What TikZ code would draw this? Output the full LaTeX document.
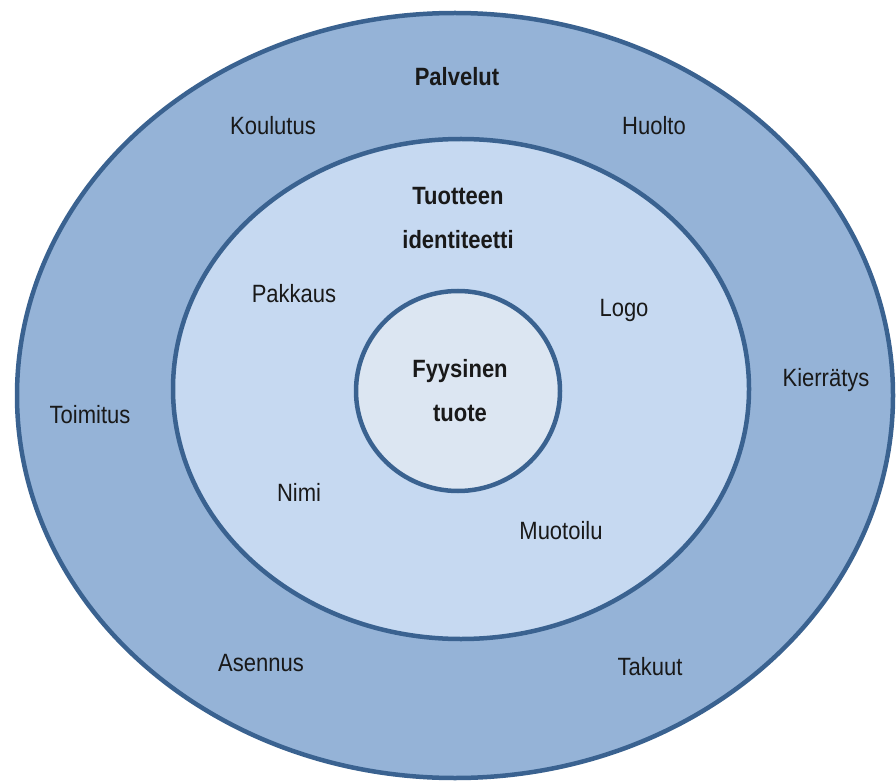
\documentclass[tikz,border=0pt]{standalone}
\usepackage{fontspec}
\setmainfont[FakeStretch=0.88]{Liberation Sans}
\usetikzlibrary{shapes.geometric}
\definecolor{outerfill}{HTML}{95B3D7}
\definecolor{midfill}{HTML}{C6D9F1}
\definecolor{innerfill}{HTML}{DCE6F2}
\definecolor{ringline}{HTML}{3A6290}
\tikzset{
  ring/.style={ellipse, draw=ringline, line width=4.5pt, inner sep=0pt},
  lbl/.style={font=\fontsize{25}{44}\selectfont, text=black!90, align=center, inner sep=0pt},
  head/.style={lbl, font=\fontsize{25}{44}\selectfont\bfseries}
}
\begin{document}
\begin{tikzpicture}[x=1pt,y=-1pt]
\useasboundingbox (0,0) rectangle (896,783);
\node[ring, fill=outerfill, minimum width=876pt, minimum height=765pt] (outer) at (455,395.5) {};
\node[ring, fill=midfill, minimum width=576pt, minimum height=500pt] (mid) at (461,389) {};
\node[ring, fill=innerfill, minimum width=204pt, minimum height=200pt] (inner) at (458,391) {};
\node[head] (palvelut) at (457,77) {Palvelut};
\node[lbl] (koulutus) at (273,126) {Koulutus};
\node[lbl] (huolto) at (654,126) {Huolto};
\node[head] (identiteetti) at (458,218) {Tuotteen\\identiteetti};
\node[lbl] (pakkaus) at (294,294) {Pakkaus};
\node[lbl] (logo) at (624,310) {Logo};
\node[head] (fyysinen) at (460,391) {Fyysinen\\tuote};
\node[lbl] (toimitus) at (90,415) {Toimitus};
\node[lbl] (kierratys) at (826,380) {Kierrätys};
\node[lbl] (nimi) at (299,492) {Nimi};
\node[lbl] (muotoilu) at (561,531) {Muotoilu};
\node[lbl] (asennus) at (261,663) {Asennus};
\node[lbl] (takuut) at (650,667) {Takuut};
\end{tikzpicture}
\end{document}
